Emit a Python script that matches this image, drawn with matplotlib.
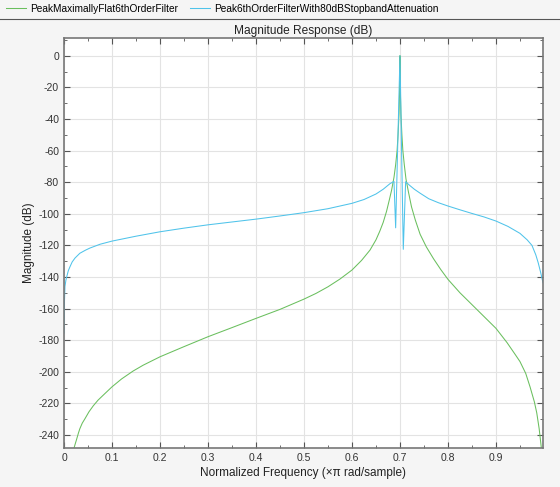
import matplotlib
matplotlib.use("Agg")
import matplotlib.pyplot as plt
from matplotlib.lines import Line2D
from matplotlib.ticker import MultipleLocator

plt.rcParams['font.family'] = ['Liberation Sans', 'DejaVu Sans']
plt.rcParams['axes.unicode_minus'] = False

# values
flat_freq = [0.0208, 0.023, 0.026, 0.03, 0.033, 0.038, 0.044, 0.052, 0.061, 0.071,
             0.082, 0.1, 0.12, 0.144, 0.165, 0.2, 0.249, 0.3, 0.346, 0.4,
             0.45, 0.5, 0.525, 0.55, 0.575, 0.6, 0.62, 0.6375, 0.65, 0.658,
             0.665, 0.672, 0.678, 0.6826, 0.6875, 0.691, 0.694, 0.696, 0.698, 0.699,
             0.6995, 0.700, 0.7005, 0.701, 0.702, 0.704, 0.706, 0.709, 0.7125, 0.7175,
             0.724, 0.732, 0.742, 0.755, 0.77, 0.785, 0.8, 0.825, 0.85, 0.875,
             0.9, 0.923, 0.94, 0.95, 0.962, 0.971, 0.98, 0.985, 0.99, 0.9945]
flat_mag = [-248.3, -246.0, -243.0, -238.8, -236.0, -232.5, -229.5, -225.3, -221.5, -217.9,
            -214.7, -209.5, -204.5, -199.5, -195.8, -190.5, -184.2, -177.8, -172.5, -166.2,
            -160.5, -154.0, -150.4, -146.2, -141.3, -135.6, -129.5, -123.0, -116.5, -111.0,
            -105.5, -98.5, -91.0, -85.0, -77.0, -69.0, -60.0, -50.0, -37.0, -25.0,
            -15.0, 0.0, -15.0, -25.0, -37.0, -50.0, -60.0, -69.0, -78.0, -86.0,
            -95.6, -104.0, -113.0, -121.0, -128.5, -135.3, -141.5, -150.0, -157.5, -165.0,
            -172.5, -181.5, -189.0, -193.5, -201.0, -209.5, -219.0, -226.0, -236.0, -248.0]

stop_freq = [0.0, 0.001, 0.002, 0.004, 0.006, 0.009, 0.0125, 0.017, 0.023, 0.033,
             0.045, 0.054, 0.075, 0.1, 0.15, 0.2, 0.25, 0.3, 0.35, 0.4,
             0.45, 0.5, 0.55, 0.6, 0.625, 0.65, 0.665, 0.679, 0.6875, 0.691,
             0.700, 0.7069, 0.7118, 0.72, 0.73, 0.742, 0.76, 0.78, 0.8, 0.825,
             0.85, 0.875, 0.9, 0.925, 0.95, 0.965, 0.975, 0.983, 0.988, 0.993,
             0.996, 0.998]
stop_mag = [-175.5, -155.0, -146.0, -142.0, -139.5, -136.0, -133.5, -130.5, -128.0, -125.0,
            -123.0, -121.7, -119.3, -117.3, -114.2, -111.4, -109.1, -107.0, -105.2, -103.4,
            -101.4, -99.3, -96.8, -93.4, -91.0, -87.5, -84.5, -81.0, -79.5, -108.9,
            0.0, -122.5, -79.7, -82.0, -84.5, -87.0, -90.5, -93.0, -95.1, -97.5,
            -99.8, -102.0, -104.6, -108.0, -112.4, -116.5, -120.0, -126.0, -131.0, -137.0,
            -141.0, -143.7]

names = ['PeakMaximallyFlat6thOrderFilter', 'Peak6thOrderFilterWith80dBStopbandAttenuation']
x_ticks = [0, 0.1, 0.2, 0.3, 0.4, 0.5, 0.6, 0.7, 0.8, 0.9]
y_ticks = [0, -20, -40, -60, -80, -100, -120, -140, -160, -180, -200, -220, -240]

fig = plt.figure(figsize=(5.6, 4.87), dpi=100, facecolor='#f5f5f5')
ax = fig.add_axes([64/560, 1-448/487, 479/560, 410/487])
ax.set_facecolor('white')

ax.plot(flat_freq, flat_mag, color='#6abf5e', lw=0.75, label=names[0])
ax.plot(stop_freq, stop_mag, color='#4fc3ea', lw=0.75, label=names[1])

ax.set_xlim(0, 0.998)
ax.set_ylim(-248.2, 11.2)
ax.set_xticks(x_ticks)
ax.set_xticklabels([('%g' % t) for t in x_ticks])
ax.set_yticks(y_ticks)
ax.xaxis.set_minor_locator(MultipleLocator(0.05))
ax.yaxis.set_minor_locator(MultipleLocator(10))
ax.grid(True, which='major', color='#e3e3e3', lw=0.8)
ax.set_axisbelow(True)
ax.tick_params(which='both', direction='in', top=True, right=True, colors='#555555',
               labelcolor='#333333', labelsize=7.5)
ax.tick_params(which='major', length=4)
ax.tick_params(which='minor', length=2)
for s in ax.spines.values():
    s.set_color('#777777')
    s.set_linewidth(1.2)

ax.set_title('Magnitude Response (dB)', fontsize=8.6, color='#222222', pad=3)
ax.set_xlabel('Normalized Frequency (\u00d7\u03c0 rad/sample)', fontsize=8.5, color='#222222', labelpad=3)
ax.set_ylabel('Magnitude (dB)', fontsize=8.5, color='#222222', labelpad=2)

fig.legend(loc='upper left', bbox_to_anchor=(0.0, 1.005), ncol=2, frameon=False,
           fontsize=7.3, handlelength=2.0, handletextpad=0.4, columnspacing=1.1,
           borderaxespad=0.2)
fig.add_artist(Line2D([0, 1], [1-18.5/487, 1-18.5/487], color='#555555', lw=0.8))

fig.savefig('out.png', dpi=100, facecolor=fig.get_facecolor())
